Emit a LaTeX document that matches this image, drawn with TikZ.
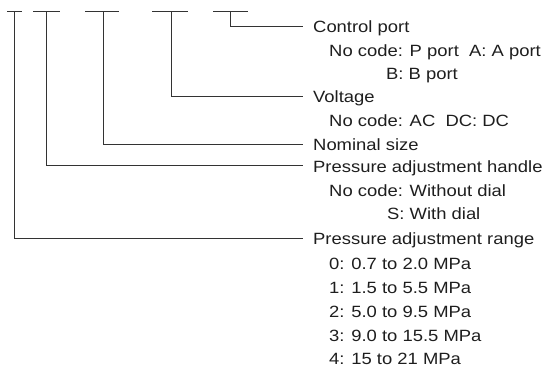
\documentclass[tikz,border=0pt]{standalone}
\usepackage{fontspec}
\setmainfont{Liberation Sans}
\newfontfamily\lblfont[FakeStretch=1.13]{Liberation Sans}
\usetikzlibrary{calc}
\definecolor{ln}{HTML}{333333}
\definecolor{txt}{HTML}{1E1E1E}
\tikzset{
  lbl/.style={anchor=base west, inner sep=0pt, text=txt, font=\lblfont\fontsize{16.3}{19}\selectfont},
  lead/.style={draw=ln, line width=0.9pt},
}
\begin{document}
\begin{tikzpicture}[x=1pt,y=-1pt]
\useasboundingbox (0,0) rectangle (549,367);
% code bars
\coordinate (a1) at (7,11);   \coordinate (a2) at (22,11);
\coordinate (b1) at (33,11);  \coordinate (b2) at (60,11);
\coordinate (c1) at (85,11);  \coordinate (c2) at (119,11);
\coordinate (d1) at (152,11); \coordinate (d2) at (188,11);
\coordinate (e1) at (213,11); \coordinate (e2) at (248,11);
\coordinate (ta) at (14.5,11);
\coordinate (tb) at (46,11);
\coordinate (tc) at (103,11);
\coordinate (td) at (171,11);
\coordinate (te) at (230,11);
\foreach \p in {a,b,c,d,e} \draw[lead] (\p1) -- (\p2);
% labels
\node[lbl] (cp)  at (313,32.5) {Control port};
\node[lbl] (cp1) at (329,56)   {No code: P port\ \ A: A port};
\node[lbl] (cp2) at (386,79.5) {B: B port};
\node[lbl] (v)   at (313,102.5) {Voltage};
\node[lbl] (v1)  at (329,126)  {No code: AC\ \ DC: DC};
\node[lbl] (ns)  at (313,150.5) {Nominal size};
\node[lbl] (h)   at (313,172)  {Pressure adjustment handle};
\node[lbl] (h1)  at (329,196)  {No code: Without dial};
\node[lbl] (h2)  at (387,219.5) {S: With dial};
\node[lbl] (r)   at (313,244.5) {Pressure adjustment range};
\node[lbl] (r0)  at (329,269)  {0: 0.7 to 2.0 MPa};
\node[lbl] (r1)  at (329,293)  {1: 1.5 to 5.5 MPa};
\node[lbl] (r2)  at (329,317)  {2: 5.0 to 9.5 MPa};
\node[lbl] (r3)  at (329,341)  {3: 9.0 to 15.5 MPa};
\node[lbl] (r4)  at (329,364.5) {4: 15 to 21 MPa};
% leaders
\draw[lead] (te) |- ($(cp.base west)+(-10,-6.5)$);
\draw[lead] (td) |- ($(v.base west)+(-10,-6.5)$);
\draw[lead] (tc) |- ($(ns.base west)+(-10,-6.5)$);
\draw[lead] (tb) |- ($(h.base west)+(-10,-6.5)$);
\draw[lead] (ta) |- ($(r.base west)+(-10,-6.5)$);
\end{tikzpicture}
\end{document}
